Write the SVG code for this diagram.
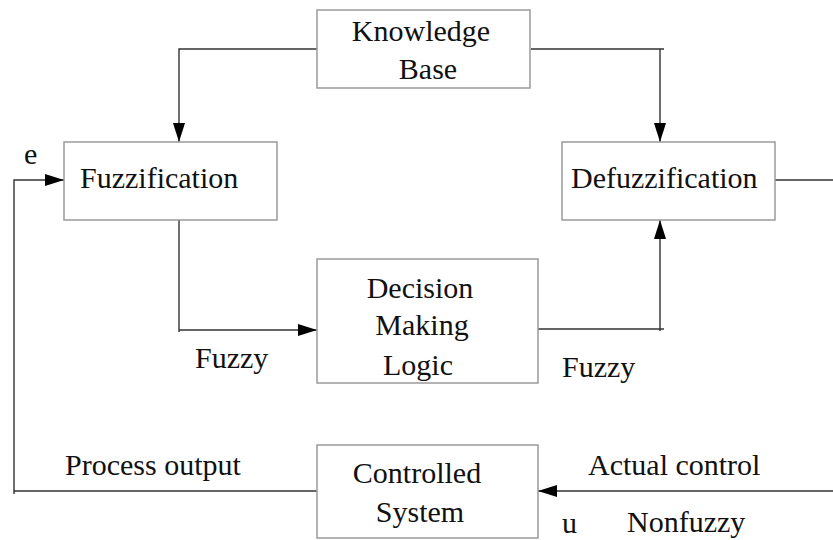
<svg xmlns="http://www.w3.org/2000/svg" width="833" height="540" viewBox="0 0 833 540">
<style>
.box{fill:#fff;stroke:#9a9a9a;stroke-width:1.5}
.ln{fill:none;stroke:#333;stroke-width:1.4}
text{font-family:"Liberation Serif","Times New Roman",serif;font-size:30px;fill:#111}
.c{text-anchor:middle}
</style>
<defs>
<marker id="ah" markerUnits="userSpaceOnUse" markerWidth="20" markerHeight="12" refX="19" refY="6" orient="auto">
<path d="M0,0 L19,6 L0,12 Z" fill="#000"/>
</marker>
</defs>
<rect width="833" height="540" fill="#fff"/>
<g id="connectors">
<path class="ln" d="M317,49 H179 V142" marker-end="url(#ah)"/>
<path class="ln" d="M531,49 H664 M660,49 V142" marker-end="url(#ah)"/>
<path class="ln" d="M14,494 V180 H64" marker-end="url(#ah)"/>
<path class="ln" d="M179,220 V332 M179,330 H317" marker-end="url(#ah)"/>
<path class="ln" d="M538,329 H664 M660,331 V220" marker-end="url(#ah)"/>
<path class="ln" d="M775,180 H833"/>
<path class="ln" d="M14,491 H321"/>
<path class="ln" d="M833,491 H538" marker-end="url(#ah)"/>
</g>
<g id="knowledge-base">
<rect class="box" x="317" y="10" width="213" height="78"/>
<text class="c" x="421" y="41">Knowledge</text>
<text class="c" x="428" y="79">Base</text>
</g>
<g id="fuzzification">
<rect class="box" x="64" y="142" width="213" height="78"/>
<text x="80" y="188">Fuzzification</text>
</g>
<g id="defuzzification">
<rect class="box" x="562" y="142" width="213" height="78"/>
<text x="571" y="188">Defuzzification</text>
</g>
<g id="decision-making-logic">
<rect class="box" x="317" y="259" width="221" height="124"/>
<text class="c" x="420" y="298">Decision</text>
<text class="c" x="422" y="335">Making</text>
<text class="c" x="418" y="375">Logic</text>
</g>
<g id="controlled-system">
<rect class="box" x="317" y="445" width="221" height="93"/>
<text class="c" x="417" y="483">Controlled</text>
<text class="c" x="420" y="522">System</text>
</g>
<g id="labels">
<text x="24" y="164">e</text>
<text x="195" y="368">Fuzzy</text>
<text x="562" y="377">Fuzzy</text>
<text x="65" y="475">Process output</text>
<text x="588" y="475">Actual control</text>
<text x="627" y="532">Nonfuzzy</text>
<text x="562" y="533">u</text>
</g>
</svg>
